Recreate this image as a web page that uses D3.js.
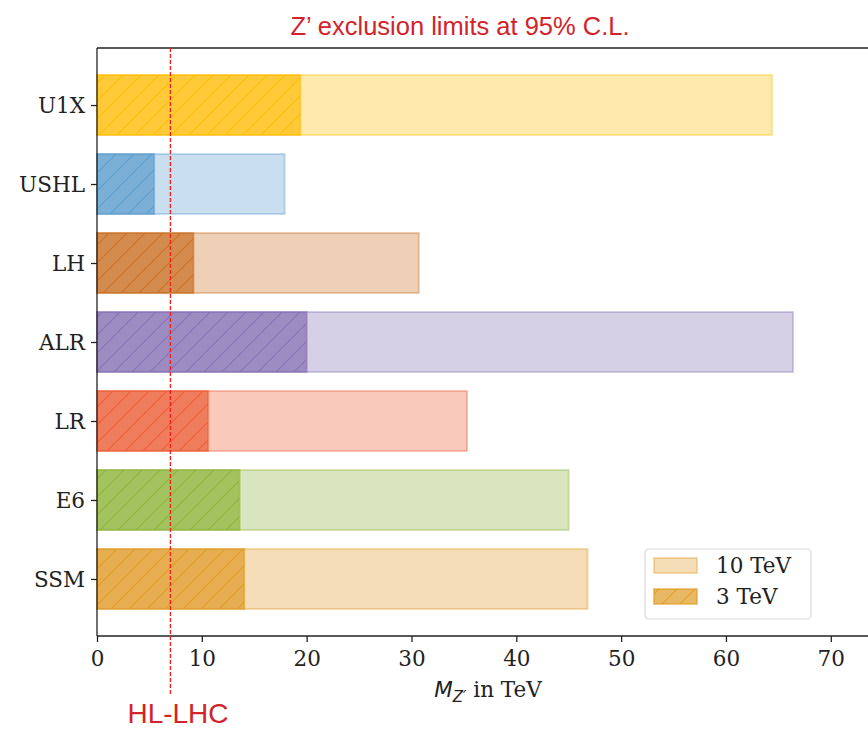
<!doctype html>
<html lang="en">
<head>
  <meta charset="utf-8">
  <title>Z' exclusion limits</title>
  <script src="https://d3js.org/d3.v7.min.js"></script>
  <style>
    body { margin: 0; background: #fff; }
    .tick text { font-family: 'DejaVu Serif', serif; font-size: 21.5px; fill: #222; }
  </style>
</head>
<body>
  <div id="chart"></div>
  <script type="text/javascript">

    var width = 868, height = 730;

    // data (TeV)
    var models = ['U1X', 'USHL', 'LH', 'ALR', 'LR', 'E6', 'SSM'];
    var limits3TeV = [19.4, 5.45, 9.2, 20.0, 10.6, 13.6, 14.05];
    var limits10TeV = [64.4, 17.9, 30.7, 66.4, 35.3, 45.0, 46.8];
    var colors = ['#ffbd06', '#5a9ccc', '#c96f22', '#846fb3', '#ec5c33', '#8cb437', '#e09a24'];
    var xTicks = [0, 10, 20, 30, 40, 50, 60, 70];
    var hlLhc = 7;

    var margin = {top: 48, left: 97, bottom: 636, right: 879};

    var svg = d3.select('#chart')
                .append('svg')
                .attr('width', width)
                .attr('height', height);

    var x = d3.scaleLinear()
              .domain([0, 74.6])
              .range([margin.left, margin.right]);

    var y = d3.scalePoint()
              .domain(models)
              .range([margin.top, margin.bottom])
              .padding(0.722);

    var barH = 60;

    // hatch patterns, one per colour
    var defs = svg.append('defs');
    colors.forEach(function(c, i) {
      var p = defs.append('pattern')
                  .attr('id', 'hatch' + i)
                  .attr('patternUnits', 'userSpaceOnUse')
                  .attr('width', 18)
                  .attr('height', 18);
      p.append('rect').attr('width', 18).attr('height', 18)
        .attr('fill', c).attr('fill-opacity', 0.7);
      p.append('path')
        .attr('d', 'M-2,2 L2,-2 M0,18 L18,0 M16,20 L20,16')
        .attr('stroke', c)
        .attr('stroke-width', 1.2)
        .attr('stroke-opacity', 0.9);
    });

    // light bars: 10 TeV
    svg.selectAll('.bar10')
       .data(models)
       .enter()
       .append('rect')
       .attr('class', 'bar10')
       .attr('x', x(0))
       .attr('y', function(d) { return y(d) - barH / 2; })
       .attr('width', function(d, i) { return x(limits10TeV[i]) - x(0); })
       .attr('height', barH)
       .attr('fill', function(d, i) { return colors[i]; })
       .attr('fill-opacity', 0.33)
       .attr('stroke', function(d, i) { return colors[i]; })
       .attr('stroke-opacity', 0.35)
       .attr('stroke-width', 2);

    // hatched bars: 3 TeV
    svg.selectAll('.bar3')
       .data(models)
       .enter()
       .append('rect')
       .attr('class', 'bar3')
       .attr('x', x(0))
       .attr('y', function(d) { return y(d) - barH / 2; })
       .attr('width', function(d, i) { return x(limits3TeV[i]) - x(0); })
       .attr('height', barH)
       .attr('fill', function(d, i) { return 'url(#hatch' + i + ')'; })
       .attr('stroke', function(d, i) { return colors[i]; })
       .attr('stroke-opacity', 0.55)
       .attr('stroke-width', 2);

    // axes
    svg.append('g')
       .attr('class', 'xaxis')
       .attr('transform', 'translate(0,' + margin.bottom + ')')
       .call(d3.axisBottom(x).tickValues(xTicks).tickSize(6).tickPadding(7))
       .call(function(g) { g.select('.domain').remove(); });

    svg.append('g')
       .attr('class', 'yaxis')
       .attr('transform', 'translate(' + margin.left + ',0)')
       .call(d3.axisLeft(y).tickSize(6).tickPadding(6))
       .call(function(g) { g.select('.domain').remove(); });

    svg.selectAll('.tick line').attr('stroke', '#222').attr('stroke-width', 1.3);
    svg.selectAll('.yaxis .tick text').attr('dy', '0.36em');
    svg.selectAll('.xaxis .tick text').attr('dy', '0.8em');

    // spines
    svg.append('line').attr('x1', margin.left).attr('x2', margin.left)
       .attr('y1', margin.top).attr('y2', margin.bottom)
       .attr('stroke', '#222').attr('stroke-width', 1.3);
    svg.append('line').attr('x1', margin.left).attr('x2', margin.right)
       .attr('y1', margin.bottom).attr('y2', margin.bottom)
       .attr('stroke', '#222').attr('stroke-width', 1.3);
    svg.append('line').attr('x1', margin.left).attr('x2', margin.right)
       .attr('y1', margin.top).attr('y2', margin.top)
       .attr('stroke', '#222').attr('stroke-width', 1.3);

    // HL-LHC line
    svg.append('line')
       .attr('x1', x(hlLhc)).attr('x2', x(hlLhc))
       .attr('y1', margin.top).attr('y2', 695)
       .attr('stroke', '#ff1a1a')
       .attr('stroke-width', 1.3)
       .attr('stroke-dasharray', '4,2');

    svg.append('text')
       .attr('x', 178)
       .attr('y', 723)
       .attr('text-anchor', 'middle')
       .style('font-family', 'Liberation Sans, Arial, sans-serif')
       .style('font-size', '28px')
       .attr('fill', '#d2232a')
       .text('HL-LHC');

    // title
    svg.append('text')
       .attr('x', 460)
       .attr('y', 35)
       .attr('text-anchor', 'middle')
       .style('font-family', 'Liberation Sans, Arial, sans-serif')
       .style('font-size', '25.5px')
       .attr('fill', '#d2232a')
       .text('Z\u2019 exclusion limits at 95% C.L.');

    // x label
    var xl = svg.append('text')
       .attr('x', 488)
       .attr('y', 697)
       .attr('text-anchor', 'middle')
       .style('font-family', 'DejaVu Serif, serif')
       .style('font-size', '21.5px')
       .attr('fill', '#222');
    xl.append('tspan').style('font-family', 'DejaVu Sans, sans-serif').style('font-style', 'italic').text('M');
    xl.append('tspan').attr('dy', 5).style('font-family', 'DejaVu Sans, sans-serif').style('font-style', 'italic').style('font-size', '15px').text('Z\u2032');
    xl.append('tspan').attr('dy', -5).text(' in TeV');

    // legend
    var lg = svg.append('g').attr('transform', 'translate(645,549)');
    lg.append('rect')
      .attr('width', 166).attr('height', 70).attr('rx', 4)
      .attr('fill', '#fff').attr('fill-opacity', 0.8)
      .attr('stroke', '#d9d9d9').attr('stroke-width', 1.2);
    var legendIdx = models.indexOf('SSM');
    lg.append('rect')
      .attr('x', 9).attr('y', 9).attr('width', 43).attr('height', 15)
      .attr('fill', colors[legendIdx]).attr('fill-opacity', 0.33)
      .attr('stroke', colors[legendIdx]).attr('stroke-opacity', 0.35).attr('stroke-width', 2);
    lg.append('rect')
      .attr('x', 9).attr('y', 40).attr('width', 43).attr('height', 15)
      .attr('fill', 'url(#hatch' + legendIdx + ')')
      .attr('stroke', colors[legendIdx]).attr('stroke-opacity', 0.55).attr('stroke-width', 2);
    lg.selectAll('.ltext')
      .data(['10 TeV', '3 TeV'])
      .enter()
      .append('text')
      .attr('x', 71)
      .attr('y', function(d, i) { return 24 + i * 31; })
      .style('font-family', 'DejaVu Serif, serif')
      .style('font-size', '21.5px')
      .attr('fill', '#222')
      .text(function(d) { return d; });

  </script>
</body>
</html>
